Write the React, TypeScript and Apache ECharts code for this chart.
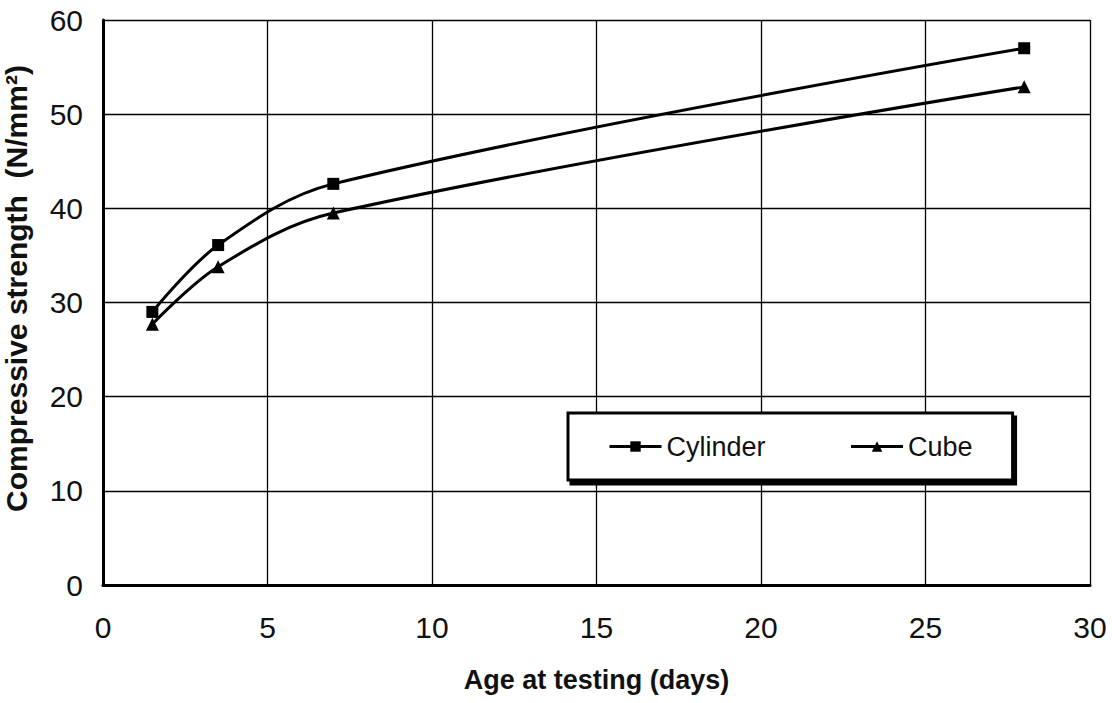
import React, { useEffect, useRef } from "react";
import * as echarts from "echarts";

const days = [1.5, 3.5, 7, 28];
const cylinder = [29.0, 36.1, 42.6, 57.0];
const cube = [27.7, 33.8, 39.5, 52.9];
const xTicks = [0, 5, 10, 15, 20, 25, 30];
const yTicks = [0, 10, 20, 30, 40, 50, 60];

export default function App() {
  const ref = useRef<HTMLDivElement>(null);
  useEffect(() => {
    if (!ref.current) return;
    const chart = echarts.init(ref.current, null, { renderer: "svg" });
    const sans = "'Liberation Sans', Arial, sans-serif";
    chart.setOption({
      animation: false,
      backgroundColor: "#ffffff",
      grid: {
        left: 103,
        right: 22,
        top: 20,
        bottom: 118,
        containLabel: false,
        outerBoundsMode: "none",
      },
      xAxis: {
        type: "value",
        min: xTicks[0],
        max: xTicks[xTicks.length - 1],
        interval: 5,
        name: "Age at testing (days)",
        nameLocation: "middle",
        nameGap: 81,
        nameTextStyle: { fontFamily: sans, fontSize: 27, fontWeight: "bold", color: "#111" },
        axisLine: { show: true, lineStyle: { color: "#000", width: 3 } },
        axisTick: { show: false },
        axisLabel: { fontFamily: sans, fontSize: 30, color: "#111", margin: 27 },
        splitLine: { show: true, lineStyle: { color: "#000", width: 1.3 } },
      },
      yAxis: {
        type: "value",
        min: yTicks[0],
        max: yTicks[yTicks.length - 1],
        interval: 10,
        name: "Compressive strength  (N/mm²)",
        nameLocation: "middle",
        nameGap: 72,
        nameTextStyle: {
          fontFamily: sans,
          fontSize: 30,
          fontWeight: "bold",
          color: "#111",
          padding: [0, 0, 0, 28],
        },
        axisLine: { show: true, lineStyle: { color: "#000", width: 3 } },
        axisTick: { show: false },
        axisLabel: { fontFamily: sans, fontSize: 30, color: "#111", margin: 20 },
        splitLine: { show: true, lineStyle: { color: "#000", width: 1.3 } },
      },
      legend: {
        left: 568,
        top: 413,
        orient: "horizontal",
        padding: [20, 40, 20, 40],
        itemGap: 84,
        itemWidth: 52,
        itemHeight: 13,
        backgroundColor: "#fff",
        borderColor: "#000",
        borderWidth: 3,
        shadowColor: "rgba(0,0,0,1)",
        shadowBlur: 0,
        shadowOffsetX: 3,
        shadowOffsetY: 4,
        lineStyle: { width: 3 },
        textStyle: { fontFamily: sans, fontSize: 27, color: "#111" },
        data: ["Cylinder", "Cube"],
      },
      series: [
        {
          name: "Cylinder",
          type: "line",
          smooth: 0.35,
          symbol: "rect",
          symbolSize: 12,
          lineStyle: { color: "#000", width: 3 },
          itemStyle: { color: "#000" },
          data: days.map((d, i) => [d, cylinder[i]]),
        },
        {
          name: "Cube",
          type: "line",
          smooth: 0.35,
          symbol: "triangle",
          symbolSize: 13,
          lineStyle: { color: "#000", width: 3 },
          itemStyle: { color: "#000" },
          data: days.map((d, i) => [d, cube[i]]),
        },
      ],
    });
    return () => chart.dispose();
  }, []);
  return (
    <div
      ref={ref}
      style={{ position: "absolute", left: 0, top: 0, width: 1112, height: 703 }}
    />
  );
}
